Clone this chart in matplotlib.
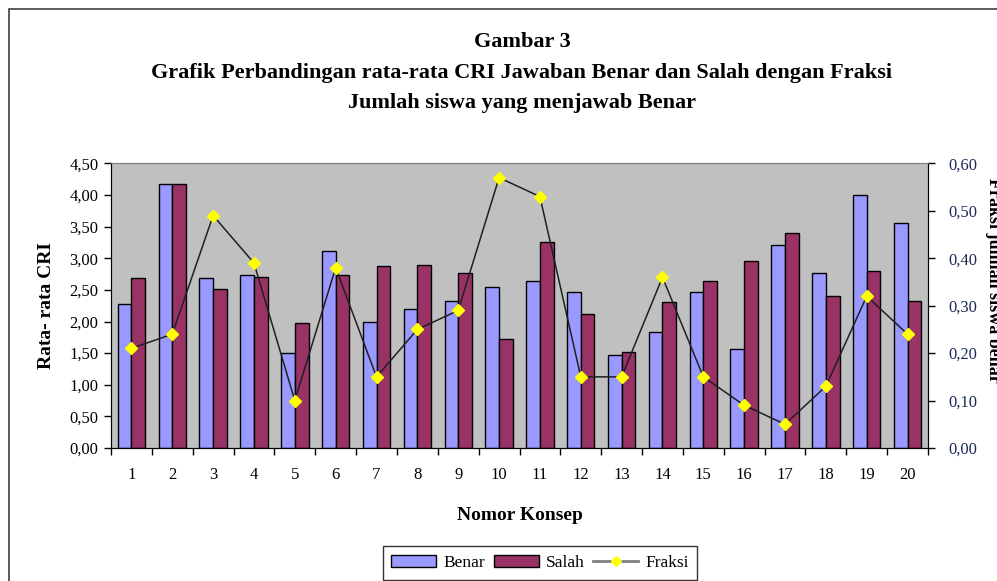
import matplotlib
matplotlib.use("Agg")
import matplotlib.pyplot as plt
from matplotlib.ticker import FuncFormatter, FixedLocator
from matplotlib.patches import Patch, Rectangle
from matplotlib.lines import Line2D
import numpy as np

plt.rcParams['font.family'] = ['Liberation Serif', 'DejaVu Serif']

# data
konsep = [str(i) for i in range(1, 21)]
benar = [2.28, 4.17, 2.69, 2.74, 1.50, 3.12, 2.00, 2.19, 2.33, 2.55,
         2.64, 2.47, 1.47, 1.83, 2.47, 1.57, 3.21, 2.76, 4.00, 3.55]
salah = [2.69, 4.17, 2.52, 2.71, 1.97, 2.74, 2.88, 2.90, 2.76, 1.73,
         3.26, 2.12, 1.52, 2.31, 2.64, 2.95, 3.40, 2.40, 2.80, 2.33]
fraksi = [0.21, 0.24, 0.49, 0.39, 0.10, 0.38, 0.15, 0.25, 0.29, 0.57,
          0.53, 0.15, 0.15, 0.36, 0.15, 0.09, 0.05, 0.13, 0.32, 0.24]

W, H = 997, 581
fig = plt.figure(figsize=(W / 100, H / 100), dpi=100)

# outer chart frame (cut off at right and bottom)
fig.patches.append(Rectangle((9 / W, -0.1), 1.2, 1 - 9 / H + 0.1, transform=fig.transFigure,
                             fill=False, edgecolor='#404040', linewidth=1.2))

ax = fig.add_axes([111 / W, (H - 448) / H, 817 / W, 284.6 / H])
ax.set_facecolor('#C0C0C0')

x = np.arange(1, 21)
w = 0.335
ax.bar(x - w / 2, benar, w, color='#9999FF', edgecolor='black', linewidth=1, zorder=2)
ax.bar(x + w / 2, salah, w, color='#993366', edgecolor='black', linewidth=1, zorder=2)

ax.set_xlim(0.5, 20.5)
ax.set_ylim(0, 4.5)
ax.set_yticks(np.arange(0, 4.51, 0.5))
ax.yaxis.set_major_formatter(FuncFormatter(lambda v, p: f"{v:.2f}".replace('.', ',')))
ax.set_xticks(x)
ax.set_xticklabels(konsep)
ax.xaxis.set_minor_locator(FixedLocator(np.arange(0.5, 20.6, 1)))
ax.tick_params(axis='x', which='major', length=0, pad=14, labelsize=12)
ax.tick_params(axis='x', which='minor', length=5, direction='out', width=1)
ax.tick_params(axis='y', length=5, direction='out', width=1, labelsize=12, pad=4)

ax.spines['top'].set_color('#808080')
ax.spines['right'].set_color('black')

ax.set_ylabel('Rata- rata CRI', fontsize=14, fontweight='bold', labelpad=10)
ax.set_xlabel('Nomor Konsep', fontsize=14, fontweight='bold', labelpad=17)

ax2 = ax.twinx()
ax2.plot(x, fraksi, color='#202020', linewidth=1.1, marker='D', markersize=6,
         markerfacecolor='#FFFF00', markeredgecolor='#FFFF00', zorder=3)
ax2.set_ylim(0, 0.6)
ax2.set_yticks(np.arange(0, 0.61, 0.1))
ax2.yaxis.set_major_formatter(FuncFormatter(lambda v, p: f"{v:.2f}".replace('.', ',')))
ax2.tick_params(axis='y', length=5, direction='out', width=1, labelsize=12, pad=10,
                labelcolor='#1a2a55')
ax2.spines['top'].set_color('#808080')

# right axis title, partly cut off by the image edge as in the source
fig.text(993 / W, 1 - 280 / H, 'Fraksi jumlah siswa benar', rotation=270,
         fontsize=13, fontweight='bold', ha='center', va='center')

# titles
fig.text(522 / W, 1 - 42 / H, 'Gambar 3', fontsize=16, fontweight='bold', ha='center', va='center')
fig.text(522 / W, 1 - 73 / H, 'Grafik Perbandingan rata-rata CRI Jawaban Benar dan Salah dengan Fraksi',
         fontsize=16, fontweight='bold', ha='center', va='center')
fig.text(522 / W, 1 - 103 / H, 'Jumlah siswa yang menjawab Benar', fontsize=16,
         fontweight='bold', ha='center', va='center')

handles = [Patch(facecolor='#9999FF', edgecolor='black', label='Benar'),
           Patch(facecolor='#993366', edgecolor='black', label='Salah'),
           Line2D([0], [0], color='#808080', linewidth=2, marker='D', markersize=5,
                  markerfacecolor='#FFFF00', markeredgecolor='#FFFF00', label='Fraksi')]
leg = fig.legend(handles=handles, loc='upper center', bbox_to_anchor=(540 / W, 1 - 546 / H),
                 ncol=3, fontsize=12.5, frameon=True, fancybox=False, edgecolor='black',
                 handlelength=2.6, handletextpad=0.4, columnspacing=0.5, borderpad=0.5,
                 borderaxespad=0)
leg.get_frame().set_linewidth(1)

fig.savefig('out.png', dpi=100)
